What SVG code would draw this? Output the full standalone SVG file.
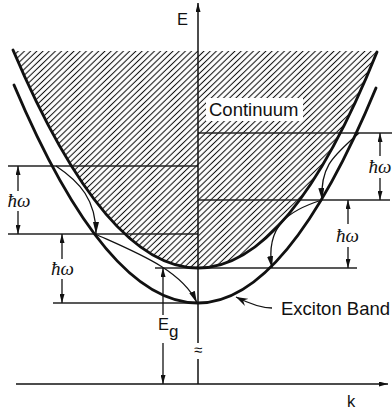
<svg xmlns="http://www.w3.org/2000/svg" width="392" height="412" viewBox="0 0 392 412">
<defs>
<style>
.thick{fill:none;stroke:#111;stroke-width:2.9;stroke-linecap:round}
.thin{fill:none;stroke:#111;stroke-width:1.3}
.lvl{stroke:#222;stroke-width:1.3;fill:none}
.ax{stroke:#111;stroke-width:1.5;fill:none}
.hw{font-family:"Liberation Serif","DejaVu Serif",serif;font-style:italic;font-size:19px;fill:#111;text-anchor:middle}
.lab{font-family:"Liberation Sans",Arial,sans-serif;fill:#111}
</style>
<pattern id="hatch" patternUnits="userSpaceOnUse" width="4.3" height="4" patternTransform="rotate(46)">
<line x1="2.15" y1="-1" x2="2.15" y2="5" stroke="#111" stroke-width="1.05"/>
</pattern>
<marker id="ah" markerUnits="userSpaceOnUse" markerWidth="12" markerHeight="6" refX="12" refY="3" orient="auto"><path d="M0,0 L12,3 L0,6 z" fill="#111"/></marker>
<marker id="ahs" markerUnits="userSpaceOnUse" markerWidth="9" markerHeight="5" refX="9" refY="2.5" orient="auto"><path d="M0,0 L9,2.5 L0,5 z" fill="#111"/></marker>
<marker id="barb" markerUnits="userSpaceOnUse" markerWidth="12" markerHeight="8" refX="12" refY="4" orient="auto"><path d="M0,0 L12,4 L0,8 L4,4 z" fill="#111"/></marker>
</defs>
<rect width="392" height="412" fill="#fff"/>

<g id="continuum-region">
<path d="M13,51 Q105.5,268 198,268 C258.7,268 319,196 377,51 Z" fill="url(#hatch)"/>
<rect x="206" y="98" width="97" height="23" fill="#fff"/>
</g>

<g id="levels">
<line class="lvl" x1="8" y1="166" x2="198" y2="166"/>
<line class="lvl" x1="8" y1="234" x2="198" y2="234"/>
<line class="lvl" x1="53" y1="303" x2="198" y2="303"/>
<line class="lvl" x1="155" y1="268" x2="198" y2="268"/>
<line class="lvl" x1="198" y1="133" x2="392" y2="133"/>
<line class="lvl" x1="198" y1="200" x2="390" y2="200"/>
<line class="lvl" x1="198" y1="268" x2="357" y2="268"/>
</g>

<g id="axes">
<line class="ax" x1="198" y1="384" x2="198" y2="359"/>
<line class="ax" x1="198" y1="343" x2="198" y2="3" marker-end="url(#ahs)"/>
<line class="ax" x1="16" y1="384" x2="388" y2="384" marker-end="url(#ahs)"/>
<text class="lab" x="198" y="355" font-size="15" text-anchor="middle">≈</text>
<text class="lab" x="177" y="25" font-size="16.5">E</text>
<text class="lab" x="347" y="407" font-size="16.5">k</text>
</g>

<g id="continuum-band">
<path class="thick" d="M13,50 Q105.5,268 198,268 C258.7,268 319,196 377,52"/>
<text class="lab" x="209" y="116" font-size="18.5">Continuum</text>
</g>

<g id="exciton-band">
<path class="thick" d="M14,85 Q106,303 198,303 Q287,303 376,88"/>
<text class="lab" x="281" y="315" font-size="18.5">Exciton Band</text>
</g>

<g id="connectors">
<path class="thin" d="M56,166 C80,182 96,200 96,234" marker-end="url(#ah)"/>
<path class="thin" d="M95,234 C135,252 182,270 197,303" marker-end="url(#ah)"/>
<path class="thin" d="M359,133 C335,155 320,165 322,200" marker-end="url(#ah)"/>
<path class="thin" d="M322,200 C290,210 265,225 272,268" marker-end="url(#ah)"/>
<path class="thin" d="M272,308 C262,308 252,305 236,297" marker-end="url(#barb)"/>
<line class="thin" x1="18" y1="191" x2="18" y2="166" marker-end="url(#ahs)"/>
<line class="thin" x1="18" y1="211" x2="18" y2="234" marker-end="url(#ahs)"/>
<line class="thin" x1="62" y1="259" x2="62" y2="234" marker-end="url(#ahs)"/>
<line class="thin" x1="62" y1="279" x2="62" y2="303" marker-end="url(#ahs)"/>
<line class="thin" x1="380" y1="156" x2="380" y2="133" marker-end="url(#ahs)"/>
<line class="thin" x1="380" y1="178" x2="380" y2="200" marker-end="url(#ahs)"/>
<line class="thin" x1="348" y1="224" x2="348" y2="200" marker-end="url(#ahs)"/>
<line class="thin" x1="348" y1="247" x2="348" y2="268" marker-end="url(#ahs)"/>
<line class="thin" x1="163" y1="315" x2="163" y2="268" marker-end="url(#ahs)"/>
<line class="thin" x1="163" y1="343" x2="163" y2="384" marker-end="url(#ahs)"/>
</g>

<g id="labels">
<text class="hw" x="19" y="207">ħω</text>
<text class="hw" x="62.5" y="275">ħω</text>
<text class="hw" x="380" y="173">ħω</text>
<text class="hw" x="347.5" y="242">ħω</text>
<text class="lab" x="158" y="330" font-size="16.5">E<tspan font-size="17" dy="7">g</tspan></text>
</g>
</svg>
